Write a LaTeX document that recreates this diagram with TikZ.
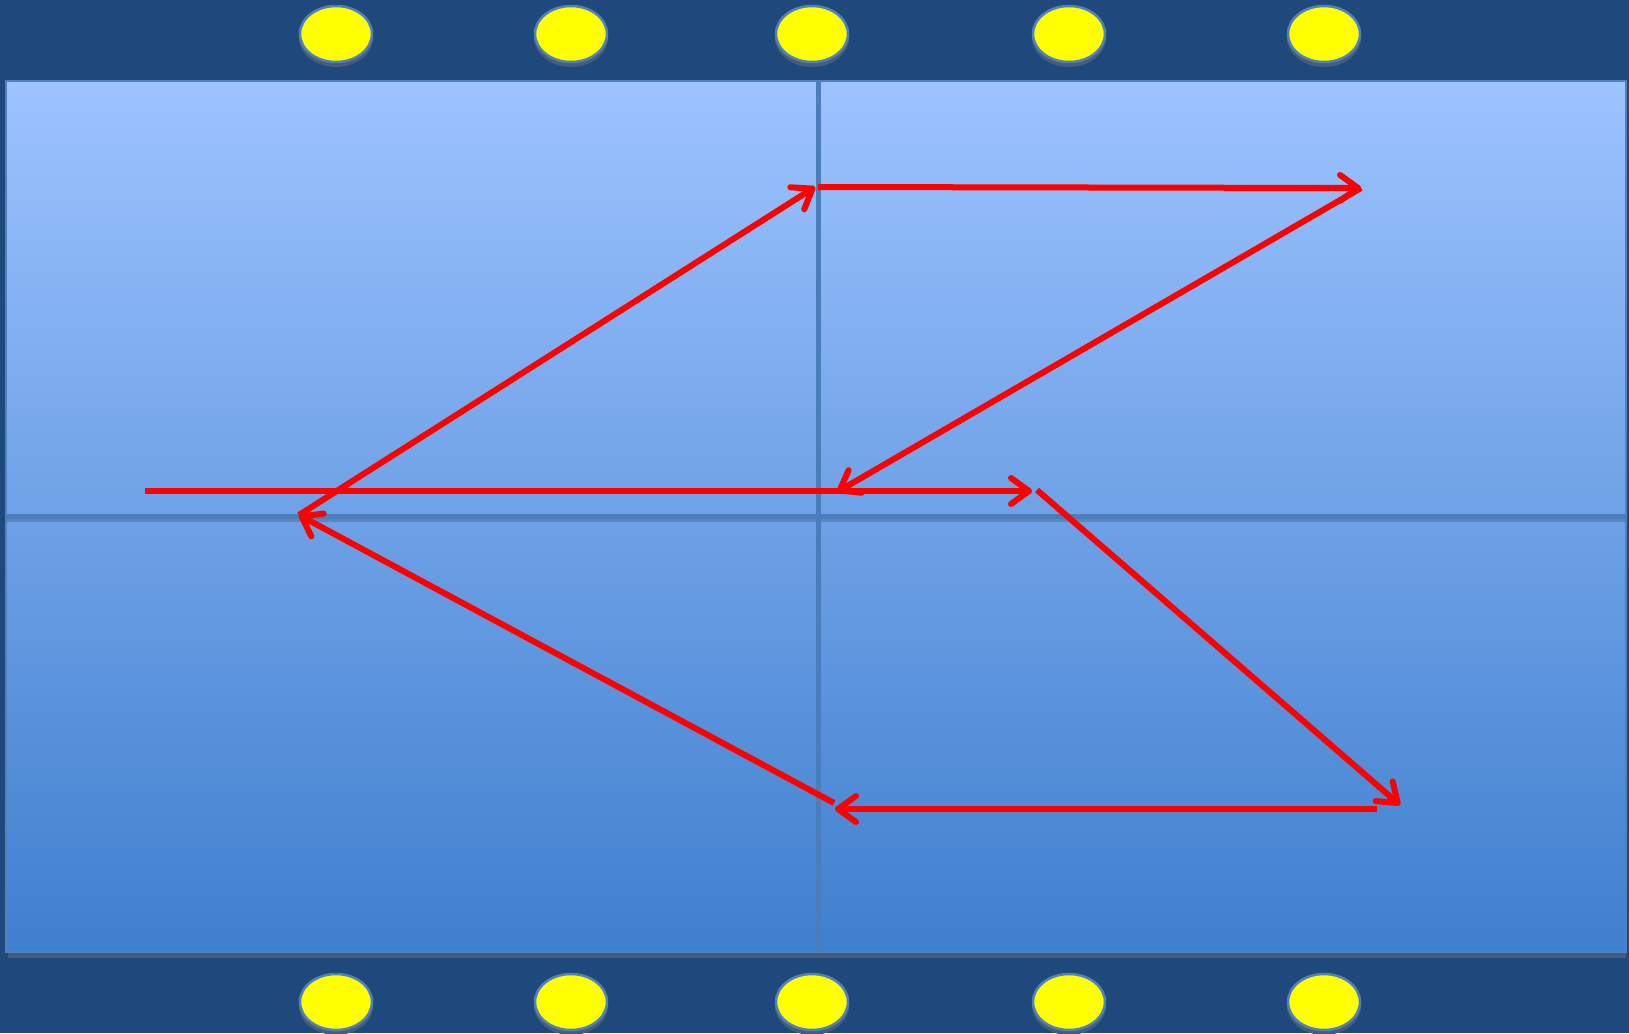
\documentclass[tikz,border=0pt]{standalone}
\usetikzlibrary{arrows.meta,shapes.geometric}
\definecolor{bg}{RGB}{31,73,125}
\definecolor{courttop}{RGB}{157,195,255}
\definecolor{courtbot}{RGB}{63,127,206}
\definecolor{edgeblue}{RGB}{79,129,189}
\definecolor{lineblue}{RGB}{74,126,187}
\definecolor{shadowc}{RGB}{70,92,125}
\definecolor{redline}{RGB}{255,0,0}
\definecolor{postyellow}{RGB}{255,255,0}
\tikzset{
  post/.style={ellipse, draw=edgeblue, line width=2.5pt, fill=postyellow, minimum width=72pt, minimum height=56pt, inner sep=0pt},
  postshadow/.style={ellipse, fill=shadowc, minimum width=74pt, minimum height=58pt, inner sep=0pt},
  move/.style={draw=redline, line width=6pt, -{Straight Barb[length=18pt,width=26pt,round]}},
  moveshadow/.style={draw=shadowc, opacity=0.3, line width=5pt, shift={(2pt,-3pt)}},
}
\begin{document}
\begin{tikzpicture}[x=1pt,y=-1pt]
\fill[bg] (0,0) rectangle (1629,1033);
\useasboundingbox (0,0) rectangle (1629,1033);
% court
\fill[shadowc] (8,84) rectangle (1626,958);
\shade[top color=courttop,bottom color=courtbot] (6,81) rectangle (1626,952);
\draw[edgeblue,line width=2pt] (6,81) rectangle (1626,952);
\draw[shadowc,opacity=0.4,line width=4pt] (6,520) -- (1626,520);
\draw[lineblue,line width=5pt] (818,81) -- (818,952);
\draw[lineblue,line width=5pt] (6,516) -- (1626,516);
% posts
\foreach \i/\x in {1/336,2/571,3/812,4/1069,5/1324}{
  \node[postshadow] at (\x,38) {};
  \node[post] (t\i) at (\x,34) {};
  \node[postshadow] at (\x,1006) {};
  \node[post] (b\i) at (\x,1002) {};
}
% arrow points
\coordinate (p1) at (145,491);
\coordinate (p2) at (1032,491);
\coordinate (p3) at (1037,490);
\coordinate (p4) at (1400,805);
\coordinate (p5) at (1377,809);
\coordinate (p6) at (835,809);
\coordinate (p7) at (834,803);
\coordinate (p8) at (299,515);
\coordinate (p9) at (815,187);
\coordinate (p10) at (818,187);
\coordinate (p11) at (1361,188);
\coordinate (p12) at (837,492);
% shadows
\foreach \a/\b in {p1/p2,p3/p4,p5/p6,p7/p8,p8/p9,p10/p11,p11/p12}{
  \draw[moveshadow] (\a) -- (\b);
}
% moves
\draw[move] (p1) -- (p2);
\draw[move] (p3) -- (p4);
\draw[move] (p5) -- (p6);
\draw[move] (p7) -- (p8);
\draw[move] (p8) -- (p9);
\draw[move] (p10) -- (p11);
\draw[move] (p11) -- (p12);
\end{tikzpicture}
\end{document}
